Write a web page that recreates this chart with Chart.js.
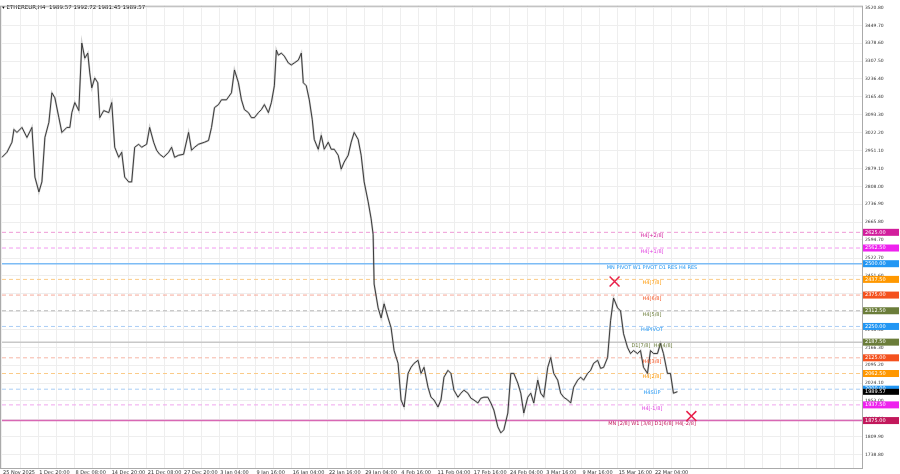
<!DOCTYPE html>
<html>
<head>
<meta charset="utf-8">
<script src="https://cdn.jsdelivr.net/npm/chart.js@4.4.1/dist/chart.umd.min.js"></script>
<style>
  body { margin: 0; background: #fff; }
</style>
</head>
<body>
<canvas id="chart" width="900" height="474"></canvas>
<script>
// bar position (time index) and close price
const barPos = [0,5,10,12,15,20,25,30,33,37,40,43,47,50,53,57,60,65,68,70,73,77,80,83,86,88,90,93,96,98,102,107,110,113,117,120,123,127,130,133,137,140,145,148,152,155,158,162,167,170,173,177,182,187,190,193,197,203,207,210,213,217,220,225,230,233,237,240,243,247,250,253,257,260,263,267,270,273,275,277,280,283,287,290,293,297,300,302,305,308,311,313,317,320,323,327,330,333,337,340,343,347,350,353,357,360,363,367,370,372,373,377,380,383,387,390,393,397,400,403,407,410,413,417,420,423,427,430,433,437,440,443,447,450,453,457,460,463,467,470,473,477,480,483,487,490,493,497,500,503,507,510,513,517,520,523,527,530,533,537,540,543,547,550,553,557,560,563,567,570,573,577,580,583,587,590,593,597,600,603,607,610,613,617,620,623,627,630,633,637,640,643,647,650,653,657,660,663,667,670,673,677];
const closes = [2924,2944,2984,3035,3023,3043,3003,3043,2845,2786,2826,3003,3063,3181,3161,3082,3023,3043,3043,3102,3142,3110,3379,3319,3339,3260,3201,3240,3221,3082,3110,3102,3142,2964,2924,2944,2845,2826,2826,2964,2976,2964,2976,3043,2984,2952,2936,2924,2944,2964,2924,2932,2936,3023,2952,2964,2976,2984,2991,3043,3122,3134,3153,3153,3181,3272,3221,3153,3114,3102,3082,3082,3102,3114,3134,3102,3142,3209,3351,3331,3339,3327,3300,3292,3300,3311,3339,3221,3209,3153,3074,2995,2956,3011,2956,2984,2956,2956,2932,2877,2905,2932,2984,3023,2995,2932,2826,2747,2679,2616,2419,2324,2284,2340,2284,2245,2154,2103,1957,1929,2063,2087,2103,2115,2063,2087,2008,1968,1957,1929,1957,2048,2075,2063,1996,1968,1984,1996,1984,1964,1957,1945,1964,1968,1968,1945,1917,1850,1826,1838,1905,2063,2063,2024,1984,1905,1968,1984,1945,2036,1984,1968,2087,2126,2063,2036,1984,1968,1957,1945,2008,2036,2048,2036,2063,2075,2103,2115,2083,2087,2126,2273,2363,2324,2312,2221,2166,2142,2154,2142,2154,2087,2063,2154,2142,2142,2182,2142,2063,2063,1984,1990];

const yTicks = [3520.80,3449.70,3378.60,3307.50,3236.40,3165.40,3093.30,3022.20,2951.10,2879.10,2808.00,2736.90,2665.80,2594.70,2522.70,2451.60,2380.50,2309.40,2238.40,2166.30,2095.20,2024.10,1953.00,1881.00,1809.90,1738.80];
const xLabels = ["25 Nov 2025","1 Dec 20:00","8 Dec 08:00","14 Dec 20:00","21 Dec 08:00","27 Dec 20:00","3 Jan 04:00","9 Jan 16:00","16 Jan 04:00","22 Jan 16:00","29 Jan 04:00","4 Feb 16:00","11 Feb 04:00","17 Feb 16:00","24 Feb 04:00","3 Mar 16:00","9 Mar 16:00","15 Mar 16:00","22 Mar 04:00"];

// levels
const levelPrices = [2625.00,2562.50,2500.00,2437.50,2375.00,2312.50,2250.00,2187.50,2125.00,2062.50,2000.00,1937.50,1875.00];
const levelNames = ["H4[+2/8]","H4[+1/8]","MN PIVOT W1 PIVOT D1 RES H4 RES","H4[7/8]","H4[6/8]","H4[5/8]","H4PIVOT","D1[7/8]  H4[4/8]","H4[3/8]","H4[2/8]","H4SUP","H4[-1/8]","MN [2/8] W1 [3/8] D1[6/8] H4[-2/8]"];
const levelLine = ["#ee9ad6","#f29af0","#7dbcf5","#fbcb88","#f7a999","#b8b8b8","#a9cdf5","#c8c8c8","#f7b5a5","#fbcb88","#a9cdf5","#f0a5ee","#d868b4"];
const levelBox = ["#d21e9c","#ee22ee","#2196f3","#ff9800","#f4511e","#6b7d3a","#2196f3","#6b7d3a","#f4511e","#ff9800","#2196f3","#ee22ee","#c2185b"];
const levelText = ["#d21e9c","#e040e0","#2196f3","#ff9800","#f4511e","#6b7d3a","#2196f3","#6b7d3a","#f4511e","#ff9800","#2196f3","#e040e0","#c2185b"];
const levelSolid = [false,false,true,false,false,false,false,true,false,false,false,false,true];

const crossPos = [614, 691];
const crossPrice = [2429, 1893];
const lastPrice = 1989.57;

const X_MAX = 862;
const labelStep = 36.3;

const levelSets = levelPrices.map((p, i) => ({
    type: "line",
    data: [{x: 0, y: p}, {x: X_MAX, y: p}],
    borderColor: levelLine[i],
    borderWidth: levelSolid[i] ? 1.5 : 1,
    borderDash: levelSolid[i] ? [] : [4, 3],
    pointRadius: 0,
    order: 5
}));

const overlay = {
    id: "overlay",
    afterDatasetsDraw(chart) {
        const ctx = chart.ctx;
        const x = chart.scales.x;
        const y = chart.scales.y;
        const area = chart.chartArea;
        ctx.save();
        ctx.font = "5px 'DejaVu Sans'";
        // date labels
        ctx.fillStyle = "#333";
        ctx.textAlign = "left";
        ctx.textBaseline = "top";
        xLabels.forEach((t, i) => {
            ctx.fillText(t, x.getPixelForValue(i * labelStep) + 1, area.bottom + 2);
        });
        ctx.textAlign = "center";
        levelPrices.forEach((p, i) => {
            const py = y.getPixelForValue(p);
            ctx.fillStyle = levelText[i];
            ctx.fillText(levelNames[i], 652, py + 1);
            // price box on axis
            ctx.fillStyle = levelBox[i];
            ctx.fillRect(area.right + 1, py - 3.5, 36, 7);
            ctx.fillStyle = "#fff";
            ctx.textBaseline = "middle";
            ctx.textAlign = "left";
            ctx.fillText(p.toFixed(2), area.right + 3, py);
            ctx.textBaseline = "top";
            ctx.textAlign = "center";
        });
        const ly = y.getPixelForValue(lastPrice);
        ctx.fillStyle = "#000";
        ctx.fillRect(area.right + 1, ly - 3, 36, 6);
        ctx.fillStyle = "#fff";
        ctx.textAlign = "left";
        ctx.textBaseline = "middle";
        ctx.fillText(lastPrice.toFixed(2), area.right + 3, ly);
        // title
        ctx.fillStyle = "#000";
        ctx.font = "5.5px 'DejaVu Sans'";
        ctx.fillText("▾ ETHEREUR,H4  1989.57 1992.72 1981.45 1989.57", 2, 8);
        // frame
        ctx.strokeStyle = "#aaa";
        ctx.lineWidth = 1;
        ctx.strokeRect(area.left + 0.5, area.top + 0.5, area.right - area.left, area.bottom - area.top);
        ctx.restore();
    }
};

new Chart(document.getElementById("chart"), {
    data: {
        datasets: [
            ...levelSets,
            {
                type: "line",
                data: barPos.map((b, i) => ({x: b, y: closes[i]})),
                borderColor: "rgba(150,150,150,0.45)",
                borderWidth: 2,
                pointRadius: 0,
                tension: 0,
                order: 2
            },
            {
                type: "line",
                data: barPos.map((b, i) => ({x: b, y: closes[i]})),
                borderColor: "#2a2a2a",
                borderWidth: 0.9,
                pointRadius: 0,
                tension: 0,
                order: 1
            },
            {
                type: "scatter",
                data: crossPos.map((b, i) => ({x: b, y: crossPrice[i]})),
                pointStyle: "crossRot",
                pointRadius: 7,
                borderColor: "#e8204a",
                borderWidth: 1.5,
                order: 0
            }
        ]
    },
    options: {
        responsive: false,
        animation: false,
        maintainAspectRatio: false,
        layout: {autoPadding: false, padding: {top: 2, left: 0, right: 0, bottom: 0}},
        plugins: {legend: {display: false}, tooltip: {enabled: false}},
        scales: {
            x: {
                type: "linear",
                min: -2,
                max: X_MAX,
                afterBuildTicks(s) {
                    const t = [];
                    for (let v = 0; v < X_MAX; v += labelStep / 2) t.push({value: v});
                    s.ticks = t;
                },
                afterFit(s) { s.height = 6; },
                grid: {color: "#eeeeee", drawTicks: false},
                border: {display: false},
                ticks: {display: false}
            },
            y: {
                position: "right",
                min: 1686,
                max: 3528,
                afterBuildTicks(s) { s.ticks = yTicks.map(v => ({value: v})); },
                afterFit(s) { s.width = 38; },
                grid: {color: "#eeeeee", drawTicks: false},
                border: {display: false},
                ticks: {
                    padding: 3,
                    font: {size: 4.5, family: "DejaVu Sans"},
                    color: "#333",
                    callback(v) { return v.toFixed(2); }
                }
            }
        }
    },
    plugins: [overlay]
});
</script>
</body>
</html>
